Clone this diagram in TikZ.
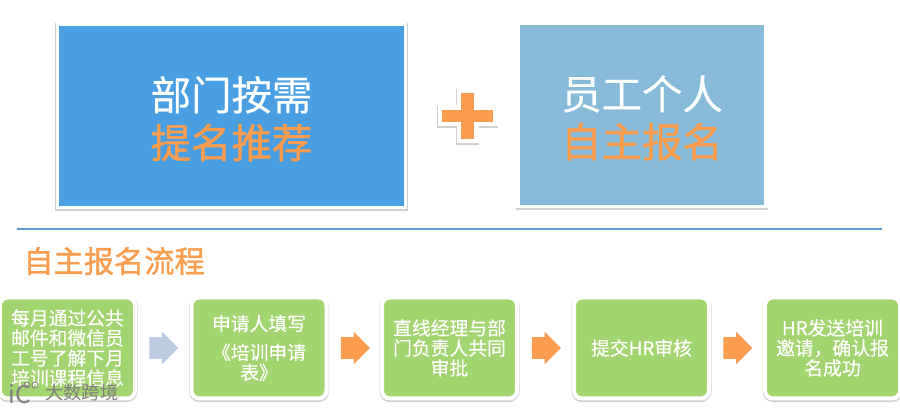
\documentclass[tikz,border=0pt]{standalone}
\usepackage{fontspec}
\setmainfont{Noto Sans CJK SC}
\newfontfamily\negrita[FakeBold=1.2]{Noto Sans CJK SC}
\newfontfamily\medio[FakeBold=0.3]{Noto Sans CJK SC}
\usetikzlibrary{shapes.arrows,shadows}
\definecolor{bmAzul}{HTML}{4A9FE3}
\definecolor{grCeleste}{HTML}{88BBD9}
\definecolor{naranja}{HTML}{FB9C4E}
\definecolor{verde}{HTML}{A2D46F}
\definecolor{flechaGris}{HTML}{BCCDE3}
\definecolor{lineaAzul}{HTML}{5B9BD5}
\tikzset{
  sombra/.style={drop shadow={shadow xshift=0pt, shadow yshift=-0.6pt, opacity=0.18, draw=black, line width=#1}},
  tarjeta/.style={rectangle, draw=white, line width=0.07cm, align=center, text=white, sombra=0.09cm,
    font=\medio\fontsize{23}{27.2}\selectfont},
  paso/.style={rectangle, rounded corners=0.16cm, draw=white, line width=0.08cm, fill=verde, sombra=0.1cm,
    minimum width=2.7cm, minimum height=2.02cm, inner sep=0pt, align=center, text=white,
    font=\medio\fontsize{10.7}{11.4}\selectfont},
  flechaPaso/.style={single arrow, fill=naranja, inner sep=0pt, minimum height=0.58cm,
    text height=0.21cm, text depth=0.21cm, text width=0pt,
    single arrow head extend=0.11cm, single arrow tip angle=90, shape border rotate=0},
  marcaAgua/.style={inner sep=0pt, anchor=west, text=black!50},
}
\begin{document}
\begin{tikzpicture}
    \useasboundingbox (0,0) rectangle (18,8.2);
    \node[tarjeta, fill=bmAzul, minimum width=6.96cm, minimum height=3.66cm] (bumen) at (4.63,5.88)
      {\rule{0pt}{22.5pt}部门按需\\\textcolor{naranja}{\negrita 提名推荐}};
    \node[tarjeta, fill=grCeleste, minimum width=4.96cm, minimum height=3.66cm] (yuangong) at (12.84,5.9)
      {\rule{0pt}{22.5pt}员工个人\\\textcolor{naranja}{\negrita 自主报名}};
    % plus
    \filldraw[naranja, draw=white, line width=0.09cm, sombra=0.11cm]
      (9.175,5.375) -- (9.525,5.375) -- (9.525,5.715) -- (9.905,5.715) -- (9.905,6.045) -- (9.525,6.045) -- (9.525,6.385)
      -- (9.175,6.385) -- (9.175,6.045) -- (8.795,6.045) -- (8.795,5.715) -- (9.175,5.715) -- cycle;
    \coordinate (lineaA) at (0.34,3.62);
    \coordinate (lineaB) at (17.64,3.62);
    \draw[lineaAzul, line width=0.05cm] (lineaA) -- (lineaB);
    \node[anchor=west, inner sep=0pt, text=naranja, font=\negrita\fontsize{17.2}{20}\selectfont] (titulo) at (0.46,2.98)
      {自主报名流程};
    \node[paso] (p1) at (1.35,1.24) {每月通过公共\\邮件和微信员\\工号了解下月\\培训课程信息};
    \node[paso] (p2) at (5.18,1.24) {申请人填写\\[5pt]《培训申请\\表》};
    \node[paso] (p3) at (8.99,1.24) {直线经理与部\\门负责人共同\\审批};
    \node[paso] (p4) at (12.83,1.24) {提交HR审核};
    \node[paso] (p5) at (16.65,1.24) {HR发送培训\\邀请，确认报\\名成功};
    \node[flechaPaso, fill=flechaGris] (f1) at (3.17,1.24) {};
    \node[flechaPaso] (f2) at (7.00,1.24) {};
    \node[flechaPaso] (f3) at (10.82,1.24) {};
    \node[flechaPaso] (f4) at (14.65,1.24) {};
    % marca de agua
    \node[marcaAgua, font=\fontsize{10.4}{12}\selectfont] (marca) at (0.9,0.34) {大数跨境};
    \node[marcaAgua, font=\fontsize{14}{14}\selectfont] (logo) at (0.16,0.32) {iC};
    \draw[black!50, line width=0.4pt] (0.54,0.5) circle (0.06) (0.70,0.5) circle (0.06);
\end{tikzpicture}
\end{document}
